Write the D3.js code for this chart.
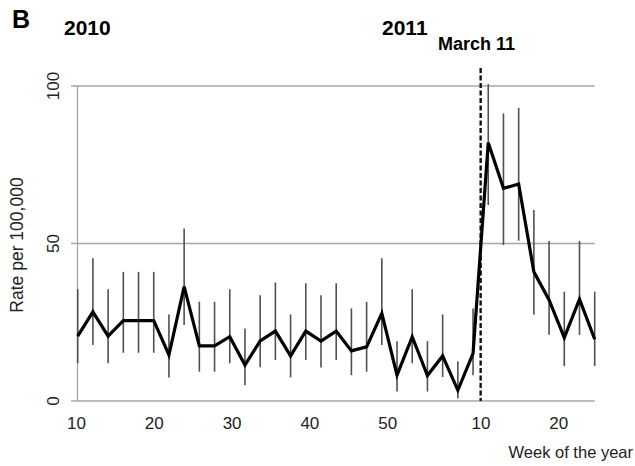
<!DOCTYPE html>
<html>
<head>
<meta charset="utf-8">
<script src="https://cdn.jsdelivr.net/npm/d3@7"></script>
<style>
  html, body { margin: 0; padding: 0; background: #fff; }
  svg { display: block; font-family: "Liberation Sans", Arial, sans-serif; }
</style>
</head>
<body>
<svg id="chart" width="635" height="466"></svg>
<script>
// ---- data ----
const years = [2010,2010,2010,2010,2010,2010,2010,2010,2010,2010,2010,2010,2010,2010,2010,2010,2010,2010,2010,2010,2010,2010,
               2011,2011,2011,2011,2011,2011,2011,2011,2011,2011,2011,2011,2011];
const weeks = [10,12,14,16,18,20,22,24,26,28,30,32,34,36,38,40,42,44,46,48,50,52,
               2,4,6,8,10,12,14,16,18,20,22,24,26];
const rate  = [20.6,28.3,20.6,25.5,25.5,25.5,14.6,36.3,17.5,17.5,20.4,11.4,19.1,22.2,14.3,22.2,19.0,22.2,15.9,17.2,27.8,8.2,
               20.4,8.1,14.3,3.4,15.1,82.0,67.5,68.9,41.0,32.1,20.1,32.3,19.6];
const lower = [12.0,17.8,12.0,15.3,15.3,15.3,7.5,24.1,9.3,9.3,12.0,5.0,10.7,13.0,7.5,13.0,10.6,13.0,8.2,9.3,17.8,3.0,
               12.0,3.0,7.6,0.8,8.2,62.2,49.5,50.9,27.5,21.0,11.1,21.0,11.1];
const upper = [35.5,45.3,35.5,41.0,41.0,41.0,27.5,54.8,31.5,31.5,35.5,23.0,33.6,37.6,27.5,37.4,33.6,37.4,29.4,31.5,45.3,19.0,
               35.5,19.0,27.5,12.6,29.4,100.6,91.3,93.1,60.6,50.8,34.7,50.8,34.7];
const tickYears = [2010,2010,2010,2010,2010,2011,2011];
const tickWeeks = [10,20,30,40,50,10,20];
const yTicks = [0,50,100];
const eventYear = 2011, eventWeek = 11, eventLabel = "March 11";

// sequential week offset from 2010 week 10 (2010 had 52 weeks)
const offset = (y, w) => y === 2010 ? w - 10 : w - 1 + 43;
const data = weeks.map((w, i) => ({ o: offset(years[i], w), v: rate[i], lo: lower[i], hi: upper[i] }));

const svg = d3.select("#chart");

const x = d3.scaleLinear().domain([0, offset(2011, 26)]).range([77.7, 594.7]);
const xTick = d3.scaleLinear().domain([0, offset(2011, 20)]).range([76, 558.3]);
const y = d3.scaleLinear().domain([0, 100]).range([401, 86]);

const gridColor = "#a6a6a6";

// gridlines at 50, 100 and baseline
svg.append("g").selectAll("line").data(yTicks).join("line")
  .attr("x1", 71).attr("x2", x.range()[1])
  .attr("y1", d => y(d)).attr("y2", d => y(d))
  .attr("stroke", gridColor).attr("stroke-width", 1.3);

// y axis line
svg.append("line")
  .attr("x1", 77.5).attr("x2", 77.5).attr("y1", y(100)).attr("y2", y(0))
  .attr("stroke", gridColor).attr("stroke-width", 1.3);

// y tick labels (rotated)
svg.append("g").selectAll("text").data(yTicks).join("text")
  .attr("transform", d => `translate(59,${y(d)}) rotate(-90)`)
  .attr("text-anchor", "middle")
  .attr("font-size", 17).attr("fill", "#222")
  .text(d => d);

// x axis tick labels
const xAxis = d3.axisBottom(xTick)
  .tickValues(tickWeeks.map((w, i) => offset(tickYears[i], w)))
  .tickFormat((d, i) => tickWeeks[i])
  .tickSize(0).tickPadding(0);
const gx = svg.append("g").attr("transform", "translate(0,413)").call(xAxis);
gx.select(".domain").remove();
gx.selectAll("text").attr("font-size", 17).attr("fill", "#222")
  .attr("font-family", "Liberation Sans, Arial, sans-serif").attr("dy", "0.95em");

// error bars
svg.append("g").selectAll("line").data(data).join("line")
  .attr("x1", d => x(d.o)).attr("x2", d => x(d.o))
  .attr("y1", d => y(d.hi)).attr("y2", d => y(d.lo))
  .attr("stroke", "#505050").attr("stroke-width", 1.6);

// event dashed line
svg.append("line")
  .attr("x1", x(offset(eventYear, eventWeek))).attr("x2", x(offset(eventYear, eventWeek)))
  .attr("y1", 68).attr("y2", y(0))
  .attr("stroke", "#111").attr("stroke-width", 2.4).attr("stroke-dasharray", "5,2.5");

// main line
svg.append("path").datum(data)
  .attr("d", d3.line().x(d => x(d.o)).y(d => y(d.v)))
  .attr("fill", "none").attr("stroke", "#000").attr("stroke-width", 3.2).attr("stroke-linejoin", "miter");

// texts
svg.append("text").attr("x", 12).attr("y", 28).attr("font-size", 25).attr("font-weight", "bold").text("B");
svg.append("text").attr("x", 64).attr("y", 35).attr("font-size", 21).attr("font-weight", "bold").text("2010");
svg.append("text").attr("x", 382).attr("y", 35).attr("font-size", 21).attr("font-weight", "bold").text("2011");
svg.append("text").attr("x", 438).attr("y", 50).attr("font-size", 18).attr("font-weight", "bold").text(eventLabel);

svg.append("text")
  .attr("transform", "translate(23,245) rotate(-90)")
  .attr("text-anchor", "middle").attr("font-size", 17.5).attr("fill", "#222")
  .text("Rate per 100,000");

svg.append("text").attr("x", 633).attr("y", 458).attr("text-anchor", "end")
  .attr("font-size", 16.5).attr("fill", "#222").text("Week of the year");
</script>
</body>
</html>
